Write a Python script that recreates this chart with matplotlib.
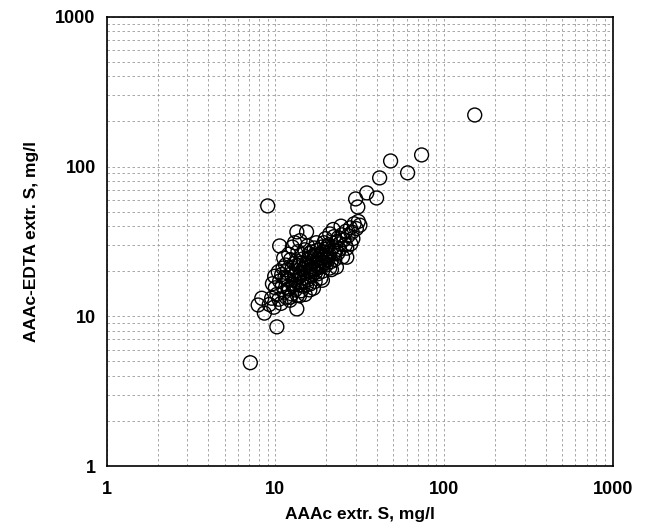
import matplotlib
matplotlib.use("Agg")
import matplotlib.pyplot as plt
from matplotlib.ticker import LogLocator, NullFormatter, FixedFormatter, FixedLocator

plt.rcParams['font.family'] = ['Liberation Sans', 'DejaVu Sans']

# AAAc extracted S (x) vs AAAc-EDTA extracted S (y), mg/l
aaac_s = [
    152, 73.6, 48.2, 60.8, 41.5, 34.8, 39.8, 29.9, 30.8, 9.0, 10.6, 13.4, 10.2, 7.1,
    7.9, 8.3, 8.6, 9.5, 9.2, 9.8, 10.2, 10.0, 9.6, 10.5, 10.8, 11.0, 11.3, 11.6, 11.9,
    12.2, 12.5, 12.0, 11.4, 10.9, 10.6, 11.8, 12.4, 12.8, 13.1, 13.5, 13.8, 14.2, 14.6,
    15.0, 13.0, 13.4, 13.7, 12.9, 12.3, 11.5, 11.1, 14.0, 14.4, 14.8, 15.2, 15.6, 16.0,
    16.4, 16.8, 17.2, 15.4, 15.8, 16.2, 16.6, 17.0, 17.4, 17.8, 18.2, 18.6, 19.0, 14.3,
    13.6, 14.9, 15.5, 16.3, 17.1, 17.6, 18.0, 18.5, 19.0, 19.5, 20.0, 20.5, 21.0, 21.5,
    18.8, 19.4, 20.0, 20.6, 21.2, 21.8, 22.4, 23.0, 23.6, 22.2, 21.0, 24.2, 24.8, 25.5,
    26.2, 27.0, 27.8, 28.5, 29.3, 30.2, 31.0, 31.7, 25.0, 23.5, 26.5, 28.0, 22.5,
    13.4, 15.3, 13.0, 12.2, 13.9, 16.0, 19.0, 23.0, 26.5,
    14.5, 15.1, 15.7, 16.1, 16.7, 17.3, 17.9, 18.4, 18.9, 19.6, 20.2, 20.8, 21.4, 16.5,
    15.9, 17.7, 18.3, 19.1, 19.8, 13.2, 13.9, 12.7, 12.1, 14.7, 15.3, 11.7, 12.6, 13.3,
    14.1, 14.6, 24.0, 26.0, 28.8, 22.8, 20.4, 17.0,
    10.4, 11.2, 12.0, 9.9, 17.5, 19.8, 22.0, 24.5, 12.6, 14.0,
]
edta_s = [
    221, 119.6, 109, 90.8, 84, 66.7, 61.7, 60.8, 53.7, 54.6, 29.5, 11.2, 8.5, 4.9,
    11.9, 13.2, 10.5, 13.2, 12.0, 11.5, 14.0, 15.5, 16.5, 13.0, 12.2, 16.0, 14.5, 13.4, 15.2,
    12.8, 14.1, 17.5, 18.3, 19.0, 17.2, 20.5, 19.2, 16.5, 15.0, 13.8, 16.2, 14.8, 15.9,
    14.0, 18.8, 20.2, 21.8, 22.5, 23.9, 22.0, 21.0, 19.5, 18.0, 21.0, 19.4, 17.6, 16.4,
    18.8, 15.4, 17.1, 22.7, 24.5, 21.5, 23.3, 20.4, 22.4, 19.2, 21.2, 18.0, 20.0, 25.8,
    27.0, 27.8, 29.5, 26.9, 25.6, 27.5, 24.2, 26.0, 23.1, 25.0, 22.0, 23.8, 21.0, 20.5,
    29.0, 31.0, 28.0, 30.0, 27.0, 29.0, 26.5, 31.5, 33.5, 34.0, 35.5, 30.5, 35.0, 32.5,
    37.0, 34.5, 39.0, 36.5, 41.5, 38.5, 43.0, 40.6, 24.9, 26.5, 28.5, 30.5, 24.0,
    36.6, 36.6, 31.0, 13.4, 13.7, 15.0, 17.4, 21.3, 24.8,
    20.5, 21.8, 20.0, 19.0, 20.6, 19.6, 22.6, 23.6, 21.8, 22.8, 24.8, 25.8, 23.2, 25.0,
    26.2, 24.0, 25.2, 27.0, 26.2, 17.4, 18.4, 16.0, 15.4, 17.0, 16.2, 17.9, 21.0, 23.4,
    22.6, 24.2, 28.0, 30.0, 33.0, 27.5, 29.2, 28.6,
    19.8, 24.5, 26.0, 18.5, 31.0, 33.0, 38.0, 40.0, 29.0, 32.0,
]

fig = plt.figure(figsize=(6.47, 5.26), dpi=100)
ax = fig.add_axes([0.165, 0.114, 0.782, 0.854])

ax.scatter(aaac_s, edta_s, s=100, facecolors='none', edgecolors='black',
           linewidths=1.0, zorder=3)

ax.set_xscale('log')
ax.set_yscale('log')
ax.set_xlim(1, 1000)
ax.set_ylim(1, 1000)

ticks = [1, 10, 100, 1000]
for axis in (ax.xaxis, ax.yaxis):
    axis.set_major_locator(FixedLocator(ticks))
    axis.set_major_formatter(FixedFormatter(['1', '10', '100', '1000']))
    axis.set_minor_locator(LogLocator(base=10, subs=range(2, 10)))
    axis.set_minor_formatter(NullFormatter())

ax.grid(True, which='both', color='0.6', linestyle=(0, (3, 3)), linewidth=0.6, zorder=0)
ax.tick_params(which='both', length=0)
ax.tick_params(axis='x', pad=11)
ax.tick_params(axis='y', pad=8)
for lab in ax.get_xticklabels() + ax.get_yticklabels():
    lab.set_fontsize(13)
    lab.set_fontweight('bold')

for sp in ax.spines.values():
    sp.set_linewidth(1.2)

ax.set_xlabel("AAAc extr. S, mg/l", fontsize=12.5, fontweight='bold', labelpad=6)
ax.set_ylabel("AAAc-EDTA extr. S, mg/l", fontsize=12.5, fontweight='bold', labelpad=12)

fig.savefig("out.png", dpi=100)
